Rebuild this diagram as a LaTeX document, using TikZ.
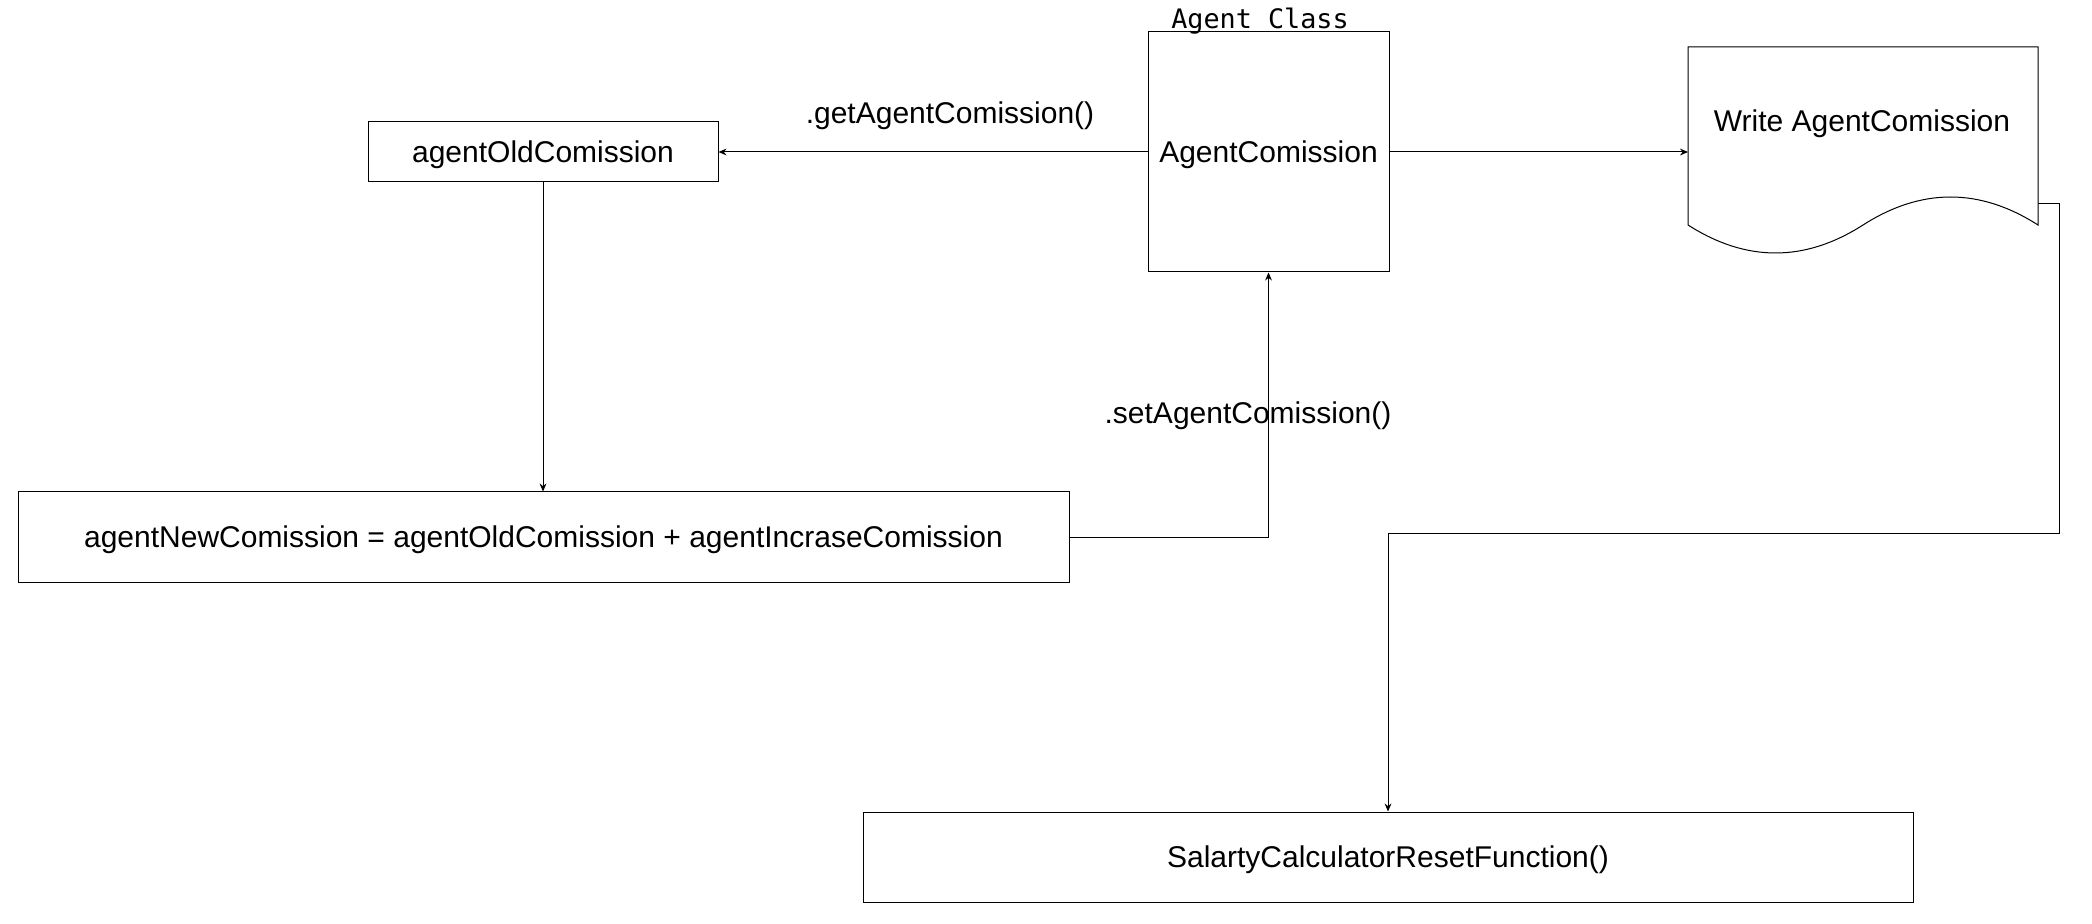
\documentclass[tikz,border=0pt]{standalone}
\usepackage{fontspec}
\setmainfont{Liberation Sans}
\newfontfamily\monofnt{DejaVu Sans Mono}
\usetikzlibrary{arrows.meta}
\begin{document}
\begin{tikzpicture}[x=0.5pt,y=-0.5pt,
  every node/.style={font=\fontsize{15}{18}\selectfont,text height=13.2pt,text depth=3pt},
  box/.style={draw,line width=0.5pt,inner sep=0pt,align=center},
  conn/.style={line width=0.5pt},
  arr/.style={conn,-{Stealth[length=4pt,width=3.4pt]}},
  lbl/.style={inner sep=0pt}]
\useasboundingbox[fill=white] (0,0) rectangle (2092,924);

% nodes
\node[box,minimum width=120.5pt,minimum height=120pt] (ac) at (1268.5,152) {AgentComission};
\node[lbl,font=\monofnt\fontsize{13.4}{16}\selectfont,text height=11pt,text depth=2pt] (aclass) at (1260,20) {Agent Class};
\node[box,minimum width=175pt,minimum height=30pt] (old) at (543,152) {agentOldComission};
\node[box,minimum width=525.5pt,minimum height=45pt] (formula) at (543.5,537) {agentNewComission = agentOldComission + agentIncraseComission};
\node[box,minimum width=525pt,minimum height=45pt] (salary) at (1388,857) {SalartyCalculatorResetFunction()};

% document shape
\node[inner sep=0pt,minimum width=175pt,minimum height=89pt] (doc) at (1863,136) {};
\draw[conn] (1688,47) -- (2038,47) -- (2038,225)
  .. controls (1979.67,187.67) and (1921.33,187.67) .. (1863,225)
  .. controls (1804.67,262.33) and (1746.33,262.33) .. (1688,225) -- cycle;
\node[lbl] (doctext) at (1862,121) {Write AgentComission};

% labels
\node[lbl] (getl) at (950,113) {.getAgentComission()};
\node[lbl] (setl) at (1248,413) {.setAgentComission()};

% connectors
\coordinate (docin) at (1688,152);
\coordinate (docout) at (2038,204);
\coordinate (r1) at (2059,204);
\coordinate (r2) at (2059,534);
\coordinate (r3) at (1388,534);
\draw[arr] (ac.west) -- (old.east);
\draw[arr] (ac.east) -- (docin);
\draw[arr] (old.south) -- (old.south |- formula.north);
\draw[arr] (formula.east) -| (ac.south);
\draw[arr] (docout) -- (r1) -- (r2) -- (r3) -- (salary.north);
\end{tikzpicture}
\end{document}
